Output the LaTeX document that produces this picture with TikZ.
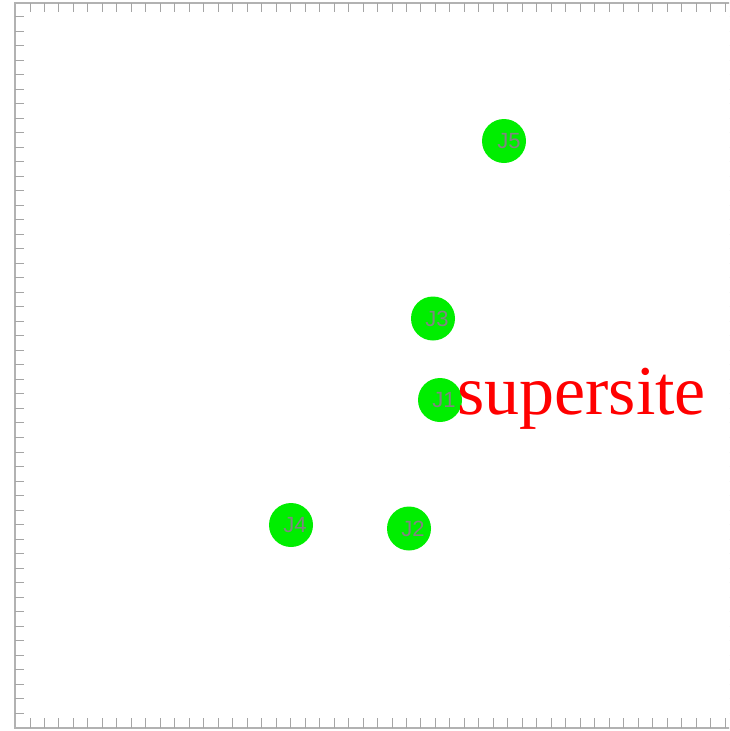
\documentclass[tikz,border=0pt]{standalone}
\usepackage{fontspec}
\usepackage{xcolor}
\usepackage{tikz}
\usetikzlibrary{positioning}
\newfontfamily\sitefont{Liberation Sans}
\newfontfamily\tagfont{Liberation Serif}
\definecolor{sitegreen}{RGB}{0,238,0}
\definecolor{axisgray}{RGB}{178,178,178}
\definecolor{tickgray}{RGB}{165,165,165}
\definecolor{lblgray}{RGB}{130,130,130}
\tikzset{
  axis/.style={draw=axisgray, line width=2pt},
  tick/.style={draw=tickgray, line width=1pt},
  site/.style={circle, fill=sitegreen, minimum size=44pt, inner sep=0pt},
  sitelbl/.style={font=\sitefont\fontsize{22}{22}\selectfont, text=lblgray, inner sep=0pt},
  tag/.style={font=\tagfont\fontsize{70}{70}\selectfont, text=red, inner sep=0pt, anchor=base west}
}
\begin{document}
\begin{tikzpicture}[x=1pt, y=-1pt]
\useasboundingbox (0,0) rectangle (729,731);
\clip (0,0) rectangle (729,731);
% frame
\draw[axis] (740,3) -- (15,3) -- (15,728) -- (740,728);
\foreach \k in {0,...,48} {
  \draw[tick] ({30+14.48*\k},3) -- ++(0,9);
  \draw[tick] ({30+14.48*\k},728) -- ++(0,-10);
  \draw[tick] (15,{16.7+14.51*\k}) -- ++(9,0);
  \draw[tick, draw=tickgray!40] (738,{16.7+14.51*\k}) -- ++(-9.5,0);
}
% sites
\node[site, label={[sitelbl, xshift=5pt]center:J5}] (j5) at (504,141) {};
\node[site, label={[sitelbl, xshift=4pt]center:J3}] (j3) at (433,318.5) {};
\node[site, label={[sitelbl, xshift=4pt]center:J1}] (j1) at (440,400) {};
\node[site, label={[sitelbl, xshift=4pt]center:J4}] (j4) at (291,525) {};
\node[site, label={[sitelbl, xshift=4pt]center:J2}] (j2) at (409,528.5) {};
\node[tag] (super) at (457,414) {supersite};
\end{tikzpicture}
\end{document}
